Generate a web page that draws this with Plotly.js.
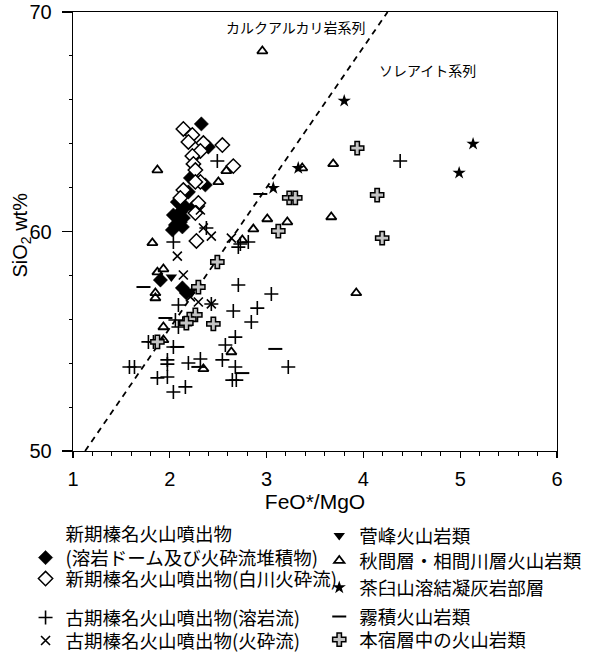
<!DOCTYPE html>
<html><head><meta charset="utf-8">
<script src="https://cdn.plot.ly/plotly-3.0.1.min.js"></script>
<style>html,body{margin:0;padding:0;background:#fff}#chart{width:600px;height:658px}</style>
</head><body><div id="chart"></div>
<script>
// ---- Data (FeO*/MgO , SiO2 wt%) ----
const seriesNames = [
  '新期榛名火山噴出物<br>(溶岩ドーム及び火砕流堆積物)',
  '新期榛名火山噴出物(白川火砕流)',
  '古期榛名火山噴出物(溶岩流)',
  '古期榛名火山噴出物(火砕流)',
  '菅峰火山岩類',
  '秋間層・相間川層火山岩類',
  '茶臼山溶結凝灰岩部層',
  '霧積火山岩類',
  '本宿層中の火山岩類'
];
const domeX = [2.326,2.398,2.244,2.213,2.367,2.192,2.078,2.161,2.244,2.109,2.037,2.140,2.058,2.130,2.027,2.109,1.903,2.130,2.171];
const domeY = [64.90,63.85,63.39,62.44,62.12,61.80,61.34,61.12,61.12,60.89,60.75,60.62,60.30,60.21,60.07,60.43,57.79,57.43,57.20];
const shirakawaX = [2.140,2.233,2.192,2.347,2.543,2.316,2.233,2.656,2.244,2.264,2.316,2.264,2.140,2.109,2.295,2.264,2.275];
const shirakawaY = [64.67,64.40,64.08,64.03,63.94,63.67,63.44,62.98,63.08,62.80,62.26,62.26,61.89,61.53,61.30,60.84,59.57];
const lavaX = [2.491,2.037,2.378,2.708,2.811,2.729,2.708,2.089,2.656,2.904,3.049,2.058,2.842,2.089,2.677,1.779,1.831,2.037,2.574,3.224,1.975,1.975,2.192,2.316,2.543,2.677,1.583,1.635,1.872,1.975,2.646,2.687,2.161,2.037,4.380,2.429];
const lavaY = [63.21,59.52,60.16,59.29,59.52,59.43,57.56,56.65,56.38,56.51,57.15,55.97,55.88,55.65,55.19,54.97,54.97,54.74,54.83,53.83,54.15,53.96,54.01,54.19,54.15,53.83,53.83,53.83,53.33,53.37,53.23,53.23,52.92,52.69,63.21,56.70];
const pyroX = [2.347,2.429,2.636,2.078,2.140,2.213,2.295,2.316,2.429];
const pyroY = [60.16,59.79,59.70,58.88,58.02,57.02,56.79,60.98,56.70];
const sugamineX = [2.016,2.223];
const sugamineY = [57.93,57.29];
const akimaX = [1.872,2.584,2.502,1.820,1.872,1.934,1.851,1.851,1.934,1.934,2.636,2.347,2.863,3.007,3.214,3.668,3.688,3.368,3.926,2.956,2.749];
const akimaY = [62.80,62.76,62.26,59.48,58.15,58.29,57.20,56.97,55.65,55.06,54.51,53.74,60.11,60.57,60.43,60.66,63.08,62.89,57.20,68.22,59.61];
const chausuX = [3.802,5.133,4.989,3.327,3.069];
const chausuY = [65.95,63.99,62.67,62.89,61.98];
const kirizumiX = [2.935,1.728,1.955,2.078,2.295,2.749,3.090];
const kirizumiY = [61.71,57.47,56.06,54.74,53.83,53.55,54.65];
const motojukuX = [3.936,4.142,4.194,3.234,3.296,3.121,2.491,2.295,2.264,2.202,2.171,2.450,1.872];
const motojukuY = [63.80,61.66,59.70,61.53,61.53,60.02,58.61,57.47,56.20,56.01,55.83,55.79,54.97];
// Calc-alkaline / tholeiite boundary
const boundaryX = [1.125, 4.25];
const boundaryY = [50, 70];
// Axis ticks and titles
const xTicks = [1,2,3,4,5,6];
const yTicks = [50,60,70];
const xTitle = 'FeO*/MgO';
const yTitle = 'SiO<sub>2</sub> wt%';

const JP = '"Noto Sans CJK JP", "Noto Sans", sans-serif';
const LAT = '"Liberation Sans", Arial, sans-serif';

function tr(x, y, name, marker, legendId) {
  return {type:'scatter', mode:'markers', x:x, y:y, name:name, marker:marker,
    legend:legendId, showlegend:true, hoverinfo:'skip', cliponaxis:false};
}
const traces = [
  {type:'scatter', mode:'lines', x:boundaryX, y:boundaryY, line:{color:'black', width:1.8, dash:'6px,5px'}, showlegend:false, hoverinfo:'skip'},
  tr(domeX, domeY, seriesNames[0], {symbol:'diamond', size:11, color:'black', line:{color:'black', width:0.5}}, 'legend'),
  tr(shirakawaX, shirakawaY, seriesNames[1], {symbol:'diamond', size:11, color:'white', line:{color:'black', width:1.5}}, 'legend2'),
  tr(lavaX, lavaY, seriesNames[2], {symbol:'cross-thin-open', size:10, color:'black', line:{color:'black', width:1.6}}, 'legend3'),
  tr(pyroX, pyroY, seriesNames[3], {symbol:'x-thin-open', size:9, color:'black', line:{color:'black', width:1.6}}, 'legend4'),
  tr(sugamineX, sugamineY, seriesNames[4], {symbol:'triangle-down', size:10, color:'black'}, 'legend5'),
  tr(akimaX, akimaY, seriesNames[5], {symbol:'triangle-up-open', size:9, color:'black', line:{color:'black', width:1.8}}, 'legend6'),
  tr(chausuX, chausuY, seriesNames[6], {symbol:'star', size:10, color:'black'}, 'legend7'),
  tr(kirizumiX, kirizumiY, seriesNames[7], {symbol:'line-ew-open', size:10, color:'black', line:{color:'black', width:2}}, 'legend8'),
  tr(motojukuX, motojukuY, seriesNames[8], {symbol:'cross', size:11, color:'#c4c4c4', line:{color:'black', width:1.5}}, 'legend9')
];

function lg(xp, yp, va) {
  return {x:xp, y:yp, xanchor:'left', yanchor:'middle', valign:va || 'middle', bgcolor:'rgba(0,0,0,0)', borderwidth:0,
    font:{family:JP, size:18.5, color:'black'}, itemclick:false, itemdoubleclick:false, tracegroupgap:0};
}
const L = 72.5, W = 484.5, B = 451, H = 439;
const px2x = p => (p - L) / W;
const py2y = p => (B - p) / H;

const layout = {
  width:600, height:658,
  margin:{l:72.5, r:43, t:12, b:207, autoexpand:false},
  paper_bgcolor:'white', plot_bgcolor:'white',
  font:{family:LAT, color:'black'},
  xaxis:{range:[1,6], tickvals:xTicks, ticks:'outside', ticklen:6, tickwidth:1.2, tickcolor:'black',
    showline:true, linecolor:'black', linewidth:1.3, mirror:true, showgrid:false, zeroline:false,
    ticklabelstandoff:4,
    tickfont:{family:LAT, size:20}, title:{text:xTitle, font:{family:LAT, size:21}, standoff:2},
    minor:{dtick:0.2, ticks:'outside', ticklen:4, tickcolor:'black', tickwidth:1, showgrid:false}},
  yaxis:{range:[50,70], tickvals:yTicks, ticks:'outside', ticklen:10, tickwidth:1.2, tickcolor:'black',
    showline:true, linecolor:'black', linewidth:1.3, mirror:true, showgrid:false, zeroline:false,
    ticklabelstandoff:6,
    tickfont:{family:LAT, size:20},
    minor:{dtick:2, ticks:'outside', ticklen:3, tickcolor:'black', tickwidth:1, showgrid:false}},
  annotations:[
    {x:px2x(20), y:py2y(235), xref:'paper', yref:'paper', xanchor:'center', yanchor:'middle', text:yTitle, textangle:-90, showarrow:false, font:{family:LAT, size:20, color:'black'}},
    {x:3.30, y:69.3, xref:'x', yref:'y', text:'カルクアルカリ岩系列', showarrow:false, font:{family:JP, size:14, color:'black'}},
    {x:4.66, y:67.36, xref:'x', yref:'y', text:'ソレアイト系列', showarrow:false, font:{family:JP, size:14, color:'black'}}
  ],
  legend: lg(px2x(25), py2y(546), 'bottom'),
  legend2: lg(px2x(25), py2y(579)),
  legend3: lg(px2x(25), py2y(618)),
  legend4: lg(px2x(25), py2y(641)),
  legend5: lg(px2x(319), py2y(536)),
  legend6: lg(px2x(319), py2y(561)),
  legend7: lg(px2x(319), py2y(588)),
  legend8: lg(px2x(319), py2y(617)),
  legend9: lg(px2x(319), py2y(640)),
  showlegend:true
};
Plotly.newPlot('chart', traces, layout, {displayModeBar:false, staticPlot:true});
</script></body></html>
